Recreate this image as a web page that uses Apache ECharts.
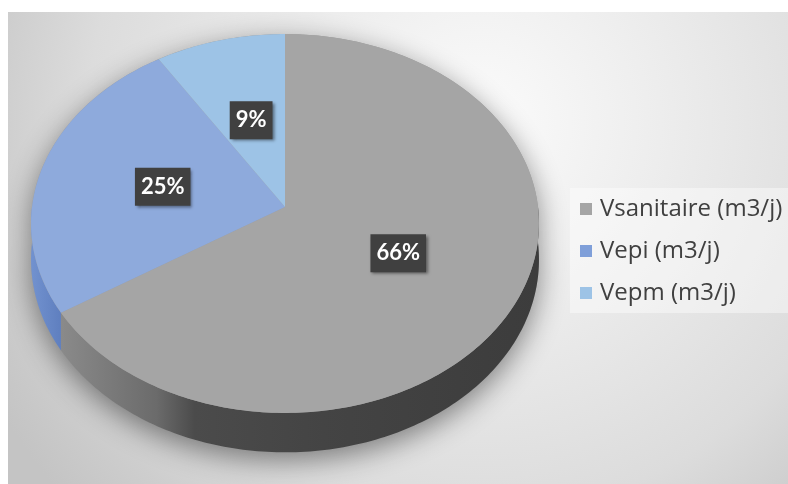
<!DOCTYPE html>
<html>
<head>
<meta charset="utf-8">
<script src="https://cdn.jsdelivr.net/npm/echarts@6/dist/echarts.min.js"></script>
<style>
  html, body { margin: 0; padding: 0; background: #ffffff; }
  #main { position: absolute; left: 8px; top: 12px; width: 780px; height: 472px; }
</style>
</head>
<body>
<div id="main"></div>
<script>
// Daily volume shares (%)
const categories = ['Vsanitaire (m3/j)', 'Vepi (m3/j)', 'Vepm (m3/j)'];
const shares = [66, 25, 9];

// Styling
const topColors = ['#a5a5a5', '#8eaadc', '#9dc3e6'];
const legendColors = ['#a5a5a5', '#7f9fd9', '#9dc3e6'];

// Tilted pie geometry: centre, radii, wall height and a mild perspective
const PIE = { cx: 277, cy: 195, rx: 253, ry: 188, depth: 36, persp: 0.087, step: 1 };

// Angle is measured clockwise from 12 o'clock, r in [0, 1], h = drop below the top face
function project(deg, r, h) {
  const a = deg * Math.PI / 180;
  const u = Math.sin(a) * r;
  const v = -Math.cos(a) * r;
  const f = 1 / (1 - PIE.persp * v);
  return [PIE.cx + PIE.rx * u * f, PIE.cy + (PIE.ry * v + h) * f];
}

function arc(a0, a1, h) {
  const pts = [];
  const n = Math.max(2, Math.ceil(Math.abs(a1 - a0) / PIE.step));
  for (let i = 0; i <= n; i++) pts.push(project(a0 + (a1 - a0) * i / n, 1, h));
  return pts;
}

function wallFill(k) {
  if (k === 0) {
    return new echarts.graphic.LinearGradient(0, 0, 1, 0, [
      { offset: 0, color: '#8a8a8a' },
      { offset: 0.2, color: '#6b6b6b' },
      { offset: 0.28, color: '#4b4b4b' },
      { offset: 0.55, color: '#444444' },
      { offset: 1, color: '#3c3c3c' }
    ]);
  }
  return new echarts.graphic.LinearGradient(0, 0, 1, 0, [
    { offset: 0, color: '#7292cf' },
    { offset: 1, color: '#5f7fbf' }
  ]);
}

function renderSlice(k) {
  return function (params, api) {
    const total = shares.reduce((s, x) => s + x, 0);
    const before = shares.slice(0, k).reduce((s, x) => s + x, 0);
    const value = api.value(0);
    const a0 = before / total * 360;
    const a1 = (before + value) / total * 360;
    const children = [];

    // Drop shadow of the whole disc (drawn once, underneath everything)
    if (k === 0) {
      const outline = arc(270, 450, 0).concat(arc(90, 270, PIE.depth));
      children.push({
        type: 'polygon', z2: 0,
        shape: { points: outline },
        style: {
          fill: '#9a9a9a',
          shadowBlur: 28, shadowColor: 'rgba(0,0,0,0.45)',
          shadowOffsetX: 0, shadowOffsetY: 8
        }
      });
    }

    // Front wall of the slice (only the near half is visible)
    const w0 = Math.max(a0, 90), w1 = Math.min(a1, 270);
    if (w1 > w0) {
      children.push({
        type: 'polygon', z2: 1 + k,
        shape: { points: arc(w0, w1, 0).concat(arc(w1, w0, PIE.depth)) },
        style: { fill: wallFill(k) }
      });
    }

    // Top face
    children.push({
      type: 'polygon', z2: 5,
      shape: { points: [[PIE.cx, PIE.cy]].concat(arc(a0, a1, 0)) },
      style: { fill: topColors[k] }
    });

    // Percentage label at half radius
    const pos = project((a0 + a1) / 2, 0.5, 0);
    children.push({
      type: 'text', z2: 10,
      x: pos[0], y: pos[1],
      style: {
        text: Math.round(value / total * 100) + '%',
        fill: '#ffffff',
        font: 'bold 22px Lato',
        align: 'center', verticalAlign: 'middle',
        lineHeight: 22,
        backgroundColor: '#404040',
        padding: [8, 6, 8, 6],
        shadowBlur: 3, shadowColor: 'rgba(0,0,0,0.45)',
        shadowOffsetX: 2, shadowOffsetY: 2
      }
    });

    return { type: 'group', children: children };
  };
}

const chart = echarts.init(document.getElementById('main'), null, { renderer: 'canvas' });

chart.setOption({
  animation: false,
  backgroundColor: {
    type: 'radial', x: 472, y: 110, r: 560, global: true,
    colorStops: [
      { offset: 0, color: '#fbfbfb' },
      { offset: 0.3, color: '#eeeeee' },
      { offset: 0.7, color: '#dcdcdc' },
      { offset: 0.86, color: '#cecece' },
      { offset: 1, color: '#c4c4c4' }
    ]
  },
  legend: {
    orient: 'vertical',
    left: 562, top: 176,
    padding: [7, 24, 6, 10],
    itemWidth: 12, itemHeight: 12, itemGap: 14,
    icon: 'rect',
    backgroundColor: 'rgba(255,255,255,0.42)',
    textStyle: {
      fontFamily: 'Open Sans', fontSize: 24, color: '#404040',
      lineHeight: 28, padding: [0, 0, 0, 3]
    },
    data: categories
  },
  series: categories.map(function (name, k) {
    return {
      type: 'custom',
      name: name,
      coordinateSystem: 'none',
      itemStyle: { color: legendColors[k] },
      renderItem: renderSlice(k),
      data: [[shares[k]]]
    };
  })
});
</script>
</body>
</html>
